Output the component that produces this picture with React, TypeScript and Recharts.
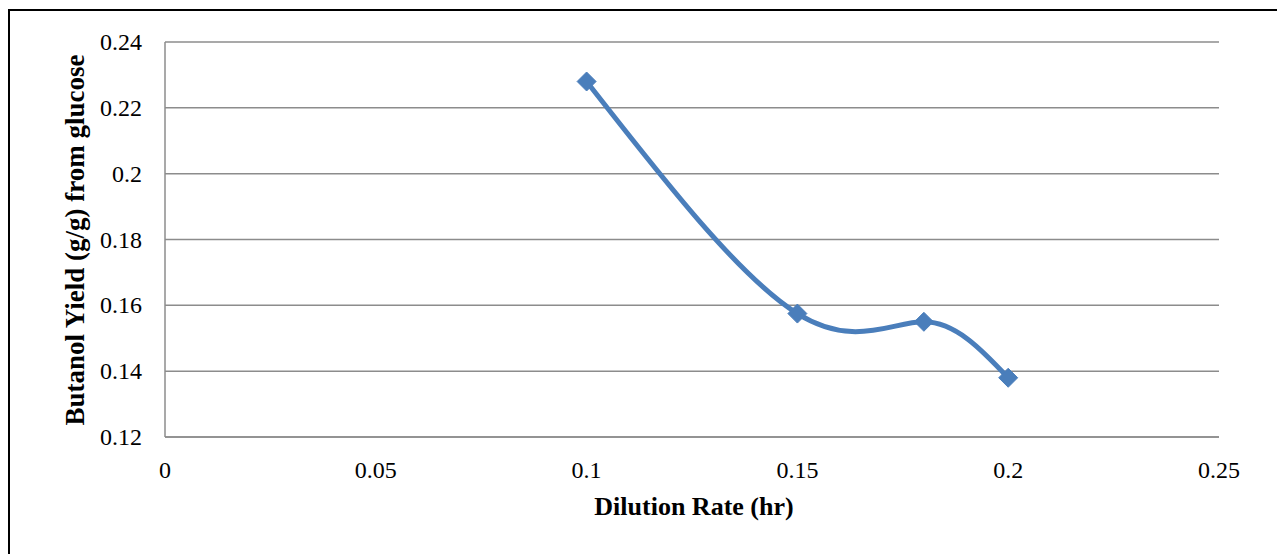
import { LineChart, Line, XAxis, YAxis, CartesianGrid } from "recharts"

const dilutionRate = [0.1, 0.15, 0.18, 0.2]
const butanolYield = [0.228, 0.1575, 0.155, 0.138]
const xTicks = [0, 0.05, 0.1, 0.15, 0.2, 0.25]
const yTicks = [0.12, 0.14, 0.16, 0.18, 0.2, 0.22, 0.24]

const data = dilutionRate.map((d, i) => ({ rate: d, yield: butanolYield[i] }))

const serif = "'Liberation Serif', 'Times New Roman', serif"
const blue = "#4A7EBB"
const grid = "#8c8c8c"

const fmt = (v: number) => String(Number(v.toFixed(2)))

function Diamond(props: any) {
  const { cx, cy } = props
  if (cx == null || cy == null) return null
  const r = 9.5
  return (
    <polygon
      points={`${cx},${cy - r} ${cx + r},${cy} ${cx},${cy + r} ${cx - r},${cy}`}
      fill={blue}
      stroke={blue}
      strokeWidth={1}
    />
  )
}

const tickStyle = { fontFamily: serif, fontSize: 24, fill: "#000" }

function XTick(props: any) {
  const { x, y, payload } = props
  return (
    <text x={x} y={y} dy={17} textAnchor="middle" style={tickStyle}>
      {fmt(payload.value)}
    </text>
  )
}

function YTick(props: any) {
  const { x, y, payload } = props
  return (
    <text x={x} y={y} dy={8} textAnchor="end" style={tickStyle}>
      {fmt(payload.value)}
    </text>
  )
}

export default function App() {
  return (
    <div style={{ position: "relative", width: 1277, height: 546, overflow: "hidden", fontFamily: serif }}>
      <div
        style={{
          position: "absolute",
          left: 0,
          top: 1,
          width: 1300,
          height: 600,
          border: "2px solid #000",
        }}
      />
      <div style={{ position: "absolute", left: 0, top: 0 }}>
        <LineChart
          width={1277}
          height={546}
          data={data}
          margin={{ top: 34, right: 66, bottom: 77, left: 77 }}
          style={{ fontFamily: serif }}
        >
          <CartesianGrid vertical={false} stroke={grid} strokeWidth={1.5} />
          <XAxis
            type="number"
            dataKey="rate"
            domain={[0, 0.25]}
            ticks={xTicks}
            height={40}
            tickLine={false}
            tickSize={0}
            tickMargin={24}
            axisLine={{ stroke: grid, strokeWidth: 1.5 }}
            tick={<XTick />}
          />
          <YAxis
            type="number"
            domain={[0.12, 0.24]}
            ticks={yTicks}
            width={80}
            tickLine={false}
            tickSize={0}
            tickMargin={23}
            axisLine={{ stroke: grid, strokeWidth: 1.5 }}
            tick={<YTick />}
          />
          <Line
            type="natural"
            dataKey="yield"
            stroke={blue}
            strokeWidth={5}
            dot={<Diamond />}
            activeDot={false}
            isAnimationActive={false}
          />
        </LineChart>
      </div>
      <div
        style={{
          position: "absolute",
          left: 586,
          top: 484,
          width: 200,
          textAlign: "center",
          fontWeight: "bold",
          fontSize: 26,
          whiteSpace: "nowrap",
        }}
      >
        Dilution Rate (hr)
      </div>
      <div
        style={{
          position: "absolute",
          left: 67,
          top: 232,
          transform: "translate(-50%, -50%) rotate(-90deg)",
          fontWeight: "bold",
          fontSize: 27,
          whiteSpace: "nowrap",
        }}
      >
        Butanol Yield (g/g) from glucose
      </div>
    </div>
  )
}
